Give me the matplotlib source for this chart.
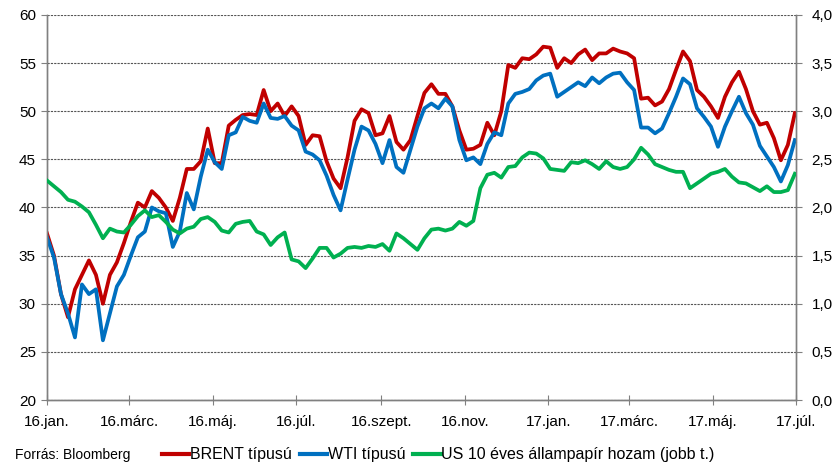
import numpy as np
import pandas as pd
import matplotlib
matplotlib.use("Agg")
import matplotlib.pyplot as plt
from matplotlib.lines import Line2D

plt.rcParams['font.family'] = ['Liberation Sans', 'DejaVu Sans']

# olajár (USD/hordó) és US 10 éves hozam (%), kb. 5 naponta
brent = [37.3, 35.0, 31.0, 28.6, 31.5, 33.0, 34.5, 33.0, 30.0, 33.0,
         34.3, 36.3, 38.5, 40.5, 40.0, 41.7, 41.0, 40.0, 38.6, 41.0,
         44.0, 44.0, 44.8, 48.2, 44.6, 44.6, 48.5, 49.1, 49.6, 49.7,
         49.6, 52.2, 50.0, 50.8, 49.5, 50.5, 49.5, 46.5, 47.5, 47.4,
         44.8, 43.0, 42.0, 45.2, 49.0, 50.2, 49.8, 47.5, 47.7, 49.5,
         46.8, 46.0, 47.0, 49.5, 51.9, 52.8, 51.8, 51.8, 50.5, 48.0,
         46.0, 46.1, 46.5, 48.8, 47.5, 50.0, 54.8, 54.5, 55.5, 55.4,
         55.9, 56.7, 56.6, 54.5, 55.5, 55.0, 55.9, 56.4, 55.3, 56.0,
         56.0, 56.5, 56.2, 56.0, 55.5, 51.3, 51.4, 50.6, 51.0, 52.3,
         54.3, 56.2, 55.2, 52.2, 51.5, 50.5, 49.3, 51.5, 53.0, 54.1,
         52.3, 50.0, 48.6, 48.8, 47.2, 44.9, 46.5, 49.8]

wti = [36.9, 34.8, 31.0, 29.0, 26.5, 32.0, 31.0, 31.5, 26.2, 29.0,
       31.8, 33.0, 35.0, 36.9, 37.5, 40.0, 39.6, 39.4, 35.9, 37.5,
       41.5, 39.8, 43.2, 46.0, 44.7, 44.0, 47.5, 47.8, 49.4, 49.0,
       48.8, 50.8, 49.3, 49.2, 49.5, 48.5, 48.0, 45.8, 45.5, 44.9,
       43.3, 41.3, 39.7, 42.9, 46.0, 48.4, 48.0, 46.6, 44.6, 47.0,
       44.2, 43.6, 46.0, 48.4, 50.3, 50.8, 50.3, 51.3, 50.5, 47.0,
       44.9, 45.2, 44.5, 46.6, 47.8, 47.5, 50.8, 51.8, 52.0, 52.3,
       53.2, 53.7, 53.9, 51.5, 52.0, 52.5, 53.0, 52.6, 53.5, 52.9,
       53.5, 53.9, 54.0, 53.0, 52.2, 48.3, 48.3, 47.7, 48.2, 49.8,
       51.5, 53.4, 52.8, 50.3, 49.4, 48.4, 46.3, 48.4, 50.0, 51.5,
       49.8, 48.6, 46.4, 45.3, 44.2, 42.7, 44.4, 47.0]

us10y = [2.28, 2.22, 2.16, 2.08, 2.06, 2.01, 1.95, 1.82, 1.68, 1.78,
         1.75, 1.74, 1.82, 1.91, 1.97, 1.90, 1.92, 1.85, 1.77, 1.73,
         1.78, 1.80, 1.88, 1.90, 1.85, 1.76, 1.74, 1.83, 1.85, 1.86,
         1.75, 1.72, 1.61, 1.69, 1.74, 1.46, 1.44, 1.37, 1.47, 1.58,
         1.58, 1.48, 1.52, 1.58, 1.59, 1.58, 1.60, 1.59, 1.62, 1.55,
         1.73, 1.68, 1.62, 1.56, 1.68, 1.77, 1.78, 1.76, 1.78, 1.85,
         1.81, 1.86, 2.20, 2.34, 2.36, 2.31, 2.42, 2.43, 2.52, 2.57,
         2.56, 2.51, 2.40, 2.39, 2.38, 2.47, 2.46, 2.49, 2.45, 2.40,
         2.48, 2.42, 2.40, 2.42, 2.50, 2.62, 2.55, 2.45, 2.42, 2.39,
         2.37, 2.37, 2.20, 2.25, 2.30, 2.35, 2.37, 2.40, 2.32, 2.26,
         2.25, 2.21, 2.17, 2.22, 2.16, 2.16, 2.18, 2.35]

tick_dates = ["2016-01-01", "2016-03-01", "2016-05-01", "2016-07-01",
              "2016-09-01", "2016-11-01", "2017-01-01", "2017-03-01",
              "2017-05-01", "2017-07-01"]
tick_labels = ["16.jan.", "16.márc.", "16.máj.", "16.júl.", "16.szept.",
               "16.nov.", "17.jan.", "17.márc.", "17.máj.", "17.júl."]

start, end = "2016-01-01", "2017-06-30"

def dates_for(values):
    return pd.date_range(start, end, periods=len(values))

RED = "#C00000"
BLUE = "#0070C0"
GREEN = "#00B050"

fig = plt.figure(figsize=(8.32, 4.66), dpi=100)
ax = fig.add_axes([0.0565, 0.1416, 0.9005, 0.8264])
ax2 = ax.twinx()

ax.plot(dates_for(brent), brent, color=RED, lw=2.7, zorder=3)
ax.plot(dates_for(wti), wti, color=BLUE, lw=2.7, zorder=4)
ax2.plot(dates_for(us10y), us10y, color=GREEN, lw=2.7, zorder=5)

ax.set_ylim(20, 60)
ax.set_yticks(range(20, 61, 5))
ax2.set_ylim(0, 4)
ax2.set_yticks(np.arange(0, 4.01, 0.5))
ax2.set_yticklabels([f"{v:.1f}".replace(".", ",") for v in np.arange(0, 4.01, 0.5)])

xt = pd.to_datetime(tick_dates)
ax.set_xlim(xt[0], xt[-1])
ax.set_xticks(xt)
ax.set_xticklabels(tick_labels)

ax.grid(axis="y", linestyle=(0, (2, 1)), color="#555555", lw=0.8)
ax.set_axisbelow(True)

for a in (ax, ax2):
    a.spines["top"].set_visible(False)
    for s in ("left", "right", "bottom"):
        a.spines[s].set_color("#808080")
        a.spines[s].set_linewidth(1.0)
ax2.set_zorder(ax.get_zorder() + 1)
ax2.patch.set_visible(False)

ax.tick_params(axis="y", direction="out", length=4, color="#808080",
               labelsize=11, pad=4)
ax.tick_params(axis="x", direction="inout", length=7, color="#808080",
               labelsize=11, pad=7)
ax2.tick_params(axis="y", direction="out", length=4, color="#808080",
                labelsize=11, pad=7)

fig.text(0.018, 0.024, "Forrás: Bloomberg", fontsize=10, va="center")

handles = [Line2D([], [], color=RED, lw=3),
           Line2D([], [], color=BLUE, lw=3),
           Line2D([], [], color=GREEN, lw=3)]
names = ["BRENT típusú", "WTI típusú", "US 10 éves állampapír hozam (jobb t.)"]
fig.legend(handles, names, loc="center left", bbox_to_anchor=(0.187, 0.024),
           ncol=3, frameon=False, fontsize=11.5, handlelength=1.7,
           handletextpad=0.05, columnspacing=0.5, borderaxespad=0)

fig.savefig("out.png", dpi=100)
